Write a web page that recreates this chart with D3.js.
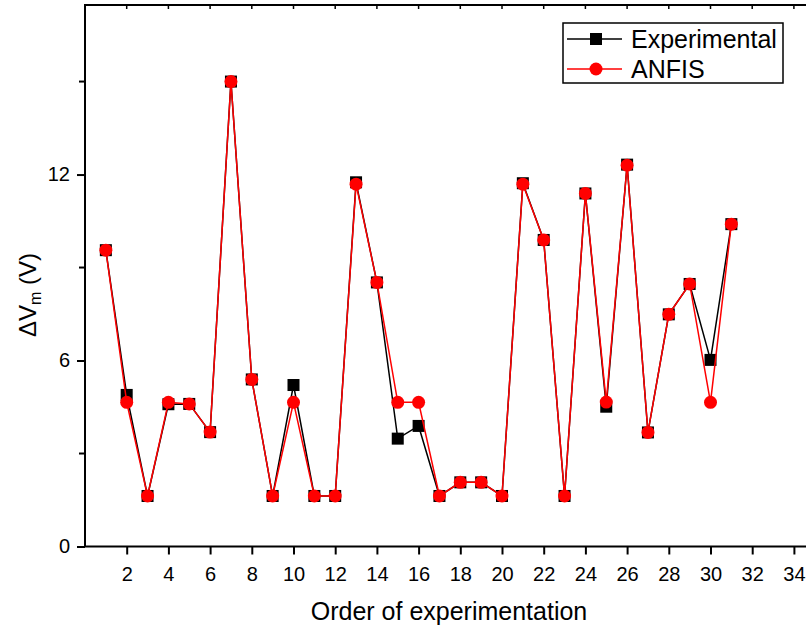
<!DOCTYPE html>
<html>
<head>
<meta charset="utf-8">
<script src="https://cdn.jsdelivr.net/npm/d3@7"></script>
<style>
  html, body { margin: 0; padding: 0; background: #fff; overflow: hidden; }
  svg { display: block; font-family: "Liberation Sans", Arial, sans-serif; }
</style>
</head>
<body>
<div id="chart"></div>
<script>
// Order of experimentation (x) and measured / predicted ΔVm (V)
const runs = d3.range(1, 32);
const experimental = [9.56, 4.89, 1.63, 4.59, 4.6, 3.69, 15.0, 5.39, 1.63, 5.21,
    1.63, 1.63, 11.75, 8.52, 3.48, 3.89, 1.63, 2.07, 2.07, 1.63,
    11.72, 9.89, 1.63, 11.39, 4.51, 12.32, 3.68, 7.49, 8.47, 6.02, 10.4];
const anfis = [9.56, 4.65, 1.63, 4.65, 4.6, 3.69, 15.0, 5.39, 1.63, 4.65,
    1.63, 1.63, 11.69, 8.52, 4.65, 4.65, 1.63, 2.07, 2.07, 1.63,
    11.69, 9.89, 1.63, 11.39, 4.66, 12.3, 3.68, 7.49, 8.47, 4.65, 10.4];
const xTicks = d3.range(2, 36, 2);
const yMajor = [0, 6, 12];
const yMinor = [3, 9, 15];
const legendLabels = ["Experimental", "ANFIS"];

const width = 806, height = 630;
const plotLeft = 85, plotTop = 5, plotBottom = 546.5;

const svg = d3.select("#chart").append("svg")
    .attr("width", width)
    .attr("height", height);

const x = d3.scaleLinear().domain([0, 35]).range([plotLeft, plotLeft + 35 * 20.85]);
const y = d3.scaleLinear().domain([0, 17.47]).range([plotBottom, plotTop]);

// frame
svg.append("rect")
    .attr("x", plotLeft).attr("y", plotTop)
    .attr("width", x(35) - plotLeft).attr("height", plotBottom - plotTop)
    .attr("fill", "none").attr("stroke", "#000").attr("stroke-width", 2);

// bottom axis
const xAxis = svg.append("g")
    .attr("transform", `translate(0,${plotBottom})`)
    .call(d3.axisBottom(x).tickValues(xTicks).tickSize(8).tickPadding(12));
xAxis.select(".domain").remove();
xAxis.selectAll("line").attr("stroke-width", 2);
xAxis.selectAll("text").attr("font-size", 20).attr("font-family", "Liberation Sans, Arial, sans-serif");

// top mirror ticks
svg.append("g").selectAll("line").data(xTicks).join("line")
    .attr("x1", d => x(d)).attr("x2", d => x(d))
    .attr("y1", plotTop).attr("y2", plotTop + 4)
    .attr("stroke", "#000").attr("stroke-width", 1.5);

// left axis
const yAxis = svg.append("g")
    .attr("transform", `translate(${plotLeft},0)`)
    .call(d3.axisLeft(y).tickValues(yMajor).tickSize(8).tickPadding(7));
yAxis.select(".domain").remove();
yAxis.selectAll("line").attr("stroke-width", 2);
yAxis.selectAll("text").attr("font-size", 20).attr("font-family", "Liberation Sans, Arial, sans-serif");

svg.append("g").selectAll("line").data(yMinor).join("line")
    .attr("x1", plotLeft - 6).attr("x2", plotLeft)
    .attr("y1", d => y(d)).attr("y2", d => y(d))
    .attr("stroke", "#000").attr("stroke-width", 2);

// axis titles
svg.append("text")
    .attr("x", 449).attr("y", 620)
    .attr("text-anchor", "middle")
    .attr("font-size", 25)
    .text("Order of experimentation");

const yTitle = svg.append("text")
    .attr("transform", "translate(36,295) rotate(-90)")
    .attr("text-anchor", "middle")
    .attr("font-size", 24);
yTitle.append("tspan").text("ΔV");
yTitle.append("tspan").attr("font-size", 16).attr("dy", 5).text("m");
yTitle.append("tspan").attr("dy", -5).text(" (V)");

// series
const line = d3.line().x((d, i) => x(runs[i])).y(d => y(d));

svg.append("path").datum(experimental)
    .attr("d", line).attr("fill", "none")
    .attr("stroke", "#000").attr("stroke-width", 1.5);
svg.append("g").selectAll("rect").data(experimental).join("rect")
    .attr("x", (d, i) => x(runs[i]) - 6)
    .attr("y", d => y(d) - 6)
    .attr("width", 12).attr("height", 12)
    .attr("fill", "#000");

svg.append("path").datum(anfis)
    .attr("d", line).attr("fill", "none")
    .attr("stroke", "#ff0000").attr("stroke-width", 1.5);
svg.append("g").selectAll("circle").data(anfis).join("circle")
    .attr("cx", (d, i) => x(runs[i]))
    .attr("cy", d => y(d))
    .attr("r", 6.5)
    .attr("fill", "#ff0000");

// legend
const legend = svg.append("g");
legend.append("rect")
    .attr("x", 563).attr("y", 23).attr("width", 220).attr("height", 60)
    .attr("fill", "#fff").attr("stroke", "#000").attr("stroke-width", 1.5);

const rows = legend.selectAll("g.row").data(legendLabels).join("g")
    .attr("class", "row")
    .attr("transform", (d, i) => `translate(0,${39 + i * 30})`);
rows.append("line")
    .attr("x1", 567).attr("x2", 622).attr("y1", 0).attr("y2", 0)
    .attr("stroke", (d, i) => i === 0 ? "#000" : "#ff0000")
    .attr("stroke-width", 1.5);
rows.filter((d, i) => i === 0).append("rect")
    .attr("x", 590).attr("y", -6).attr("width", 12).attr("height", 12)
    .attr("fill", "#000");
rows.filter((d, i) => i === 1).append("circle")
    .attr("cx", 596).attr("cy", 0).attr("r", 6.5)
    .attr("fill", "#ff0000");
rows.append("text")
    .attr("x", 631).attr("y", 0).attr("dy", "0.35em")
    .attr("font-size", 25)
    .text(d => d);
</script>
</body>
</html>
